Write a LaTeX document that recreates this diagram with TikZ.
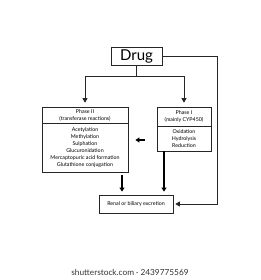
\documentclass[tikz,border=0pt]{standalone}
\usepackage{fontspec}
\setmainfont{Lato}
\usetikzlibrary{arrows.meta,positioning}

\tikzset{
  box/.style={draw=black!85, line width=0.7pt, align=center, inner sep=1pt},
  small/.style={font=\fontsize{5.3}{7}\selectfont},
  flow/.style={draw=black!85, line width=0.7pt, -{Triangle[length=4.5pt,width=5pt]}},
  bigflow/.style={draw=black, line width=1.8pt, -{Triangle[length=4pt,width=5pt]}}
}

\begin{document}
\begin{tikzpicture}[x=1pt, y=-1pt]

\useasboundingbox[fill=white] (0,0) rectangle (260,280);

% Drug
\node[box, minimum width=51pt, minimum height=18pt, font=\fontsize{15}{15}\selectfont] (drug) at (136.5,56) {Drug};

% Phase II (left)
\node[box, small, minimum width=86pt, minimum height=16pt] (p2head) at (85,115) {Phase II\\(transferase reactions)};
\node[box, small, minimum width=86pt, minimum height=49pt, below=-0.7pt of p2head] (p2body)
  {Acetylation\\Methylation\\Sulphation\\Glucuronidation\\Mercaptopuric acid formation\\Glutathione conjugation};

% Phase I (right)
\node[box, small, minimum width=54pt, minimum height=19pt] (p1head) at (184,116.5) {Phase I\\(mainly CYP450)};
\node[box, small, minimum width=54pt, minimum height=25pt, below=-0.7pt of p1head] (p1body)
  {Oxidation\\Hydrolysis\\Reduction};

% Excretion
\node[box, small, minimum width=74pt, minimum height=18pt] (renal) at (136,204) {Renal or biliary excretion};

% Connectors
\draw[flow, shorten >=4pt] (drug.south) -- ++(0,11) -| (p2head.north);
\draw[flow, shorten >=4pt] (drug.south) -- ++(0,11) -| (p1head.north);
\coordinate (bend) at (217,56);
\draw[flow, shorten >=2pt] (drug.east) -- (bend) |- (renal.east);

\draw[bigflow, shorten <=12pt, shorten >=7pt] (p1body.west |- 0,140) -- (p2body.east |- 0,140);
\draw[bigflow, shorten <=3pt, shorten >=3pt] (p2body.south -| 122,0) -- (renal.north -| 122,0);
\draw[bigflow, shorten >=3pt] (p1body.south -| 164,0) -- (renal.north -| 164,0);

% Watermark
\node[text=black!80, font=\fontsize{8.3}{10}\selectfont] (mark) at (130,272) {shutterstock.com · 2439775569};

\end{tikzpicture}
\end{document}
